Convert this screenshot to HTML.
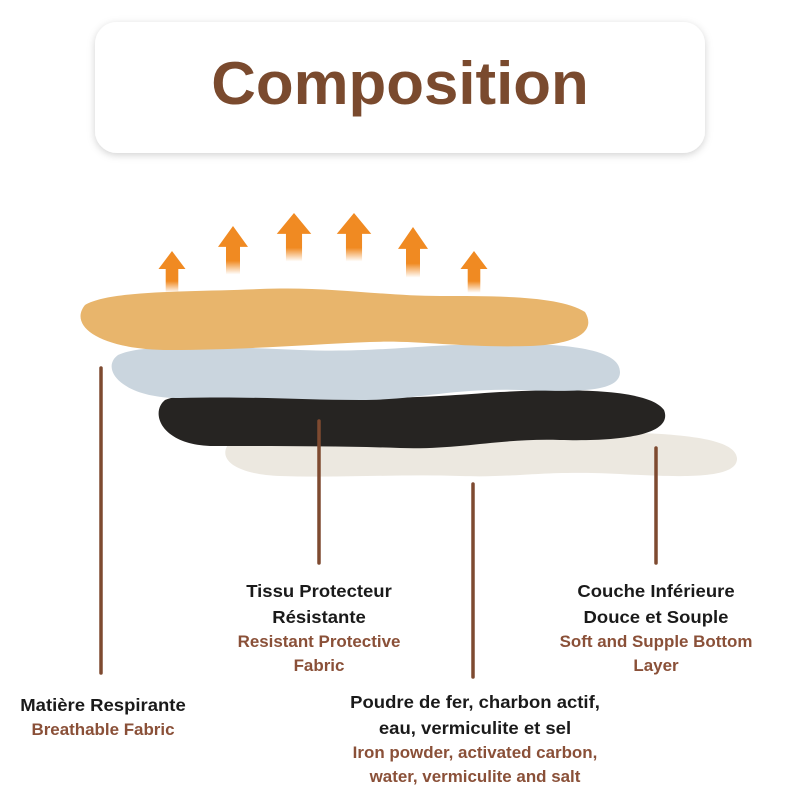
<!DOCTYPE html>
<html><head><meta charset="utf-8"><style>
html,body{margin:0;padding:0;background:#fff;width:800px;height:800px;overflow:hidden}
svg{display:block}
text{font-family:"Liberation Sans",sans-serif;font-weight:bold}
</style></head><body>
<svg width="800" height="800" viewBox="0 0 800 800" xmlns="http://www.w3.org/2000/svg">
<defs>
<filter id="sh" x="-10%" y="-20%" width="120%" height="140%"><feDropShadow dx="0" dy="2" stdDeviation="4" flood-color="#000" flood-opacity="0.18"/></filter>
<linearGradient id="ar" x1="0" y1="0" x2="0" y2="1"><stop offset="0.72" stop-color="#f08a22"/><stop offset="1" stop-color="#f08a22" stop-opacity="0"/></linearGradient>
<g id="arrow"><path d="M0 0 L15 19 L7 19 L7 44 L-7 44 L-7 19 L-15 19 Z" fill="url(#ar)"/></g>
</defs>
<rect x="95" y="22" width="610" height="131" rx="22" fill="#fff" filter="url(#sh)"/>
<text x="400" y="104" text-anchor="middle" font-size="60" fill="#7a4a2e" transform="translate(400,0) scale(1.03,1) translate(-400,0)">Composition</text>
<use href="#arrow" transform="translate(172,251) scale(0.9,0.95)"/>
<use href="#arrow" transform="translate(233,226) scale(1,1.1)"/>
<use href="#arrow" transform="translate(294,213) scale(1.15,1.1)"/>
<use href="#arrow" transform="translate(354,213) scale(1.15,1.1)"/>
<use href="#arrow" transform="translate(413,227) scale(1,1.15)"/>
<use href="#arrow" transform="translate(474,251) scale(0.9,0.95)"/>
<path d="M232 440 C260 426 330 434 400 436 C480 438 520 430 600 432 C680 433 735 438 737 458 C738 478 690 478 620 474 C540 470 520 478 460 476 C400 474 340 478 280 476 C230 474 215 456 232 440 Z" fill="#ece8e0"/>
<path d="M165 400 C190 390 260 392 330 396 C400 400 440 396 500 392 C580 388 650 390 664 410 C672 430 640 442 560 440 C500 438 460 450 400 448 C340 446 280 446 210 446 C160 444 150 412 165 400 Z" fill="#262422"/>
<path d="M118 355 C140 344 210 346 300 350 C380 353 420 344 500 344 C580 343 620 352 620 372 C620 392 580 392 520 390 C450 388 420 400 360 400 C300 400 250 396 180 398 C120 398 100 368 118 355 Z" fill="#cad5de"/>
<path d="M85 305 C110 290 190 292 260 289 C330 286 380 296 440 296 C500 296 560 296 585 312 C596 330 580 344 530 346 C460 348 420 340 370 342 C300 345 240 350 170 350 C100 350 68 326 85 305 Z" fill="#e8b56c"/>
<g stroke="#7e4a30" stroke-width="3.5" stroke-linecap="round">
<line x1="101" y1="368" x2="101" y2="673"/>
<line x1="319" y1="421" x2="319" y2="563"/>
<line x1="473" y1="484" x2="473" y2="677"/>
<line x1="656" y1="448" x2="656" y2="563"/>
</g>
<g font-size="17.8" text-anchor="middle">
<g transform="translate(319,0) scale(1.04,1)">
<text x="0" y="597" fill="#1a1a1a">Tissu Protecteur</text>
<text x="0" y="623" fill="#1a1a1a">Résistante</text>
<text x="0" y="647" fill="#8a5038" font-size="16.3">Resistant Protective</text>
<text x="0" y="671" fill="#8a5038" font-size="16.3">Fabric</text>
</g>
<g transform="translate(656,0) scale(1.04,1)">
<text x="0" y="597" fill="#1a1a1a">Couche Inférieure</text>
<text x="0" y="623" fill="#1a1a1a">Douce et Souple</text>
<text x="0" y="647" fill="#8a5038" font-size="16.3">Soft and Supple Bottom</text>
<text x="0" y="671" fill="#8a5038" font-size="16.3">Layer</text>
</g>
<g transform="translate(103,0) scale(1.04,1)">
<text x="0" y="711" fill="#1a1a1a">Matière Respirante</text>
<text x="0" y="735" fill="#8a5038" font-size="16.3">Breathable Fabric</text>
</g>
<g transform="translate(475,0) scale(1.04,1)">
<text x="0" y="708" fill="#1a1a1a">Poudre de fer, charbon actif,</text>
<text x="0" y="734" fill="#1a1a1a">eau, vermiculite et sel</text>
<text x="0" y="758" fill="#8a5038" font-size="16.3">Iron powder, activated carbon,</text>
<text x="0" y="782" fill="#8a5038" font-size="16.3">water, vermiculite and salt</text>
</g>
</g>
</svg>
</body></html>
